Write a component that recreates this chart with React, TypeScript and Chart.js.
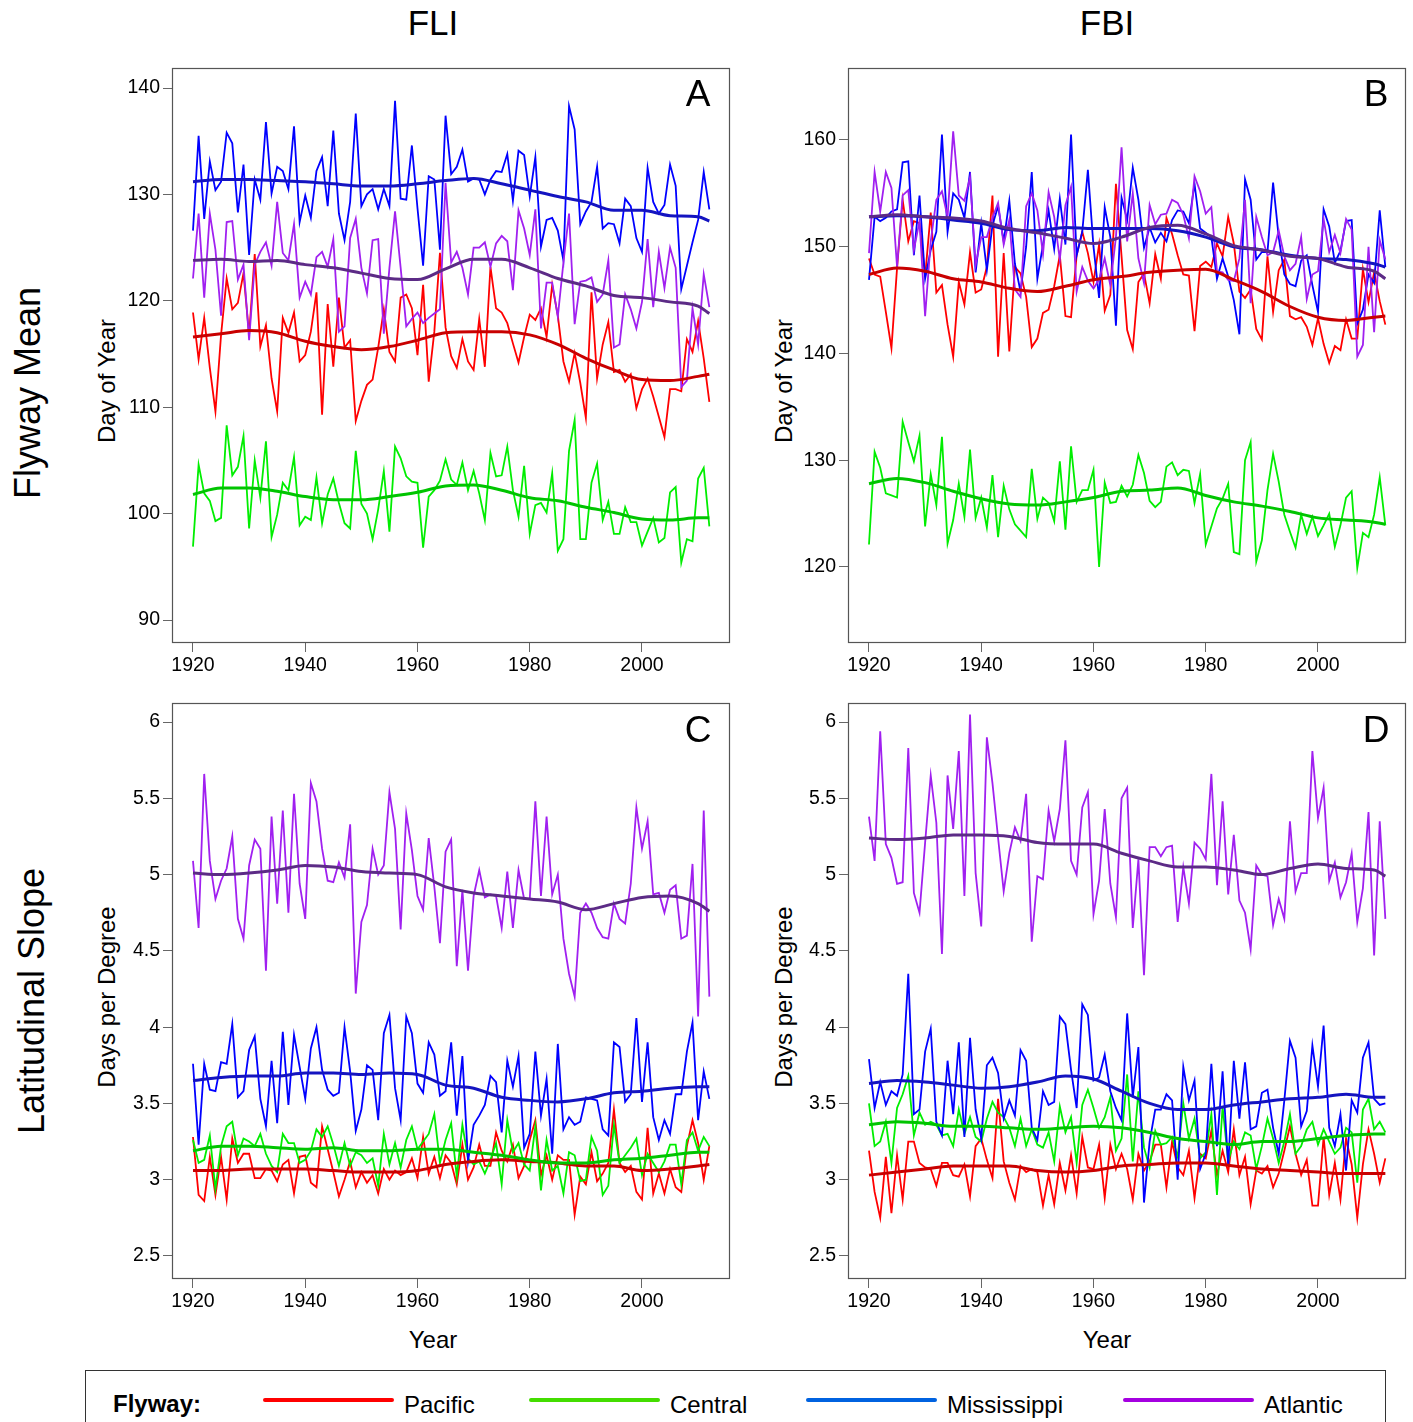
import { useEffect, useRef } from 'react'
import Chart from 'chart.js/auto'

// years 1920..2012, one value per year
const years = Array.from({ length: 93 }, (_, i) => 1920 + i)
const smoothYears = [1920, 1925, 1930, 1935, 1940, 1945, 1950, 1955, 1960, 1965, 1970, 1975, 1980, 1985, 1990, 1995, 2000, 2005, 2010, 2012]
const xTicks = [1920, 1940, 1960, 1980, 2000]
const meanTicksFLI = [90, 100, 110, 120, 130, 140]
const meanTicksFBI = [120, 130, 140, 150, 160]
const slopeTicks = [2.5, 3, 3.5, 4, 4.5, 5, 5.5, 6]

// A: FLI flyway mean
const fliMeanPacific = [
  118.9, 114.5, 118.4, 113.7, 109.6, 116.8, 122.1, 119.2, 119.8, 122.6,
  116.8, 124.4, 115.7, 117.7, 112.7, 109.6, 118.4, 117.0, 118.9, 114.3,
  114.9, 117.1, 120.8, 109.3, 119.7, 113.8, 120.3, 115.6, 116.3, 108.7,
  110.6, 112.1, 112.6, 115.6, 119.2, 115.2, 114.3, 120.3, 120.6, 119.3,
  114.9, 121.5, 112.4, 117.1, 124.5, 117.5, 114.8, 113.7, 116.4, 114.3,
  113.5, 118.3, 113.8, 123.2, 119.3, 118.9, 117.9, 116.0, 114.2, 116.6,
  118.7, 118.2, 119.3, 116.6, 121.5, 118.6, 114.3, 112.4, 115.1, 112.3,
  109.0, 120.8, 112.7, 115.9, 118.0, 113.3, 113.5, 112.4, 113.1, 109.9,
  111.7, 112.7, 111.0, 109.1, 107.2, 111.7, 111.7, 111.5, 116.4, 115.2,
  118.1, 114.6, 110.5,
]
const fliMeanCentral = [
  96.9, 104.6, 101.9, 101.2, 99.3, 99.6, 108.3, 103.6, 104.4, 107.3,
  98.6, 105.0, 101.5, 106.8, 97.8, 99.9, 102.9, 102.2, 105.3, 98.9,
  99.7, 99.4, 103.4, 99.1, 101.8, 103.3, 101.0, 99.1, 98.6, 105.9,
  100.9, 100.0, 97.6, 100.4, 104.0, 98.3, 106.3, 105.2, 103.5, 103.0,
  102.9, 96.8, 101.6, 102.2, 103.1, 105.1, 103.2, 102.7, 104.8, 102.2,
  104.0, 101.9, 99.4, 105.7, 103.5, 103.6, 106.3, 102.2, 99.7, 104.5,
  98.1, 100.8, 101.0, 100.1, 103.8, 96.5, 97.6, 105.9, 108.8, 97.6,
  97.6, 102.9, 104.7, 99.4, 101.1, 98.1, 98.1, 100.6, 99.2, 99.2,
  97.0, 98.3, 99.6, 97.3, 97.7, 102.0, 102.5, 95.4, 97.6, 97.4,
  103.3, 104.3, 98.8,
]
const fliMeanMississippi = [
  126.6, 135.5, 127.7, 133.1, 130.4, 131.2, 135.8, 134.8, 128.3, 132.8,
  124.3, 131.4, 129.5, 136.8, 130.1, 132.6, 132.2, 130.5, 136.4, 127.4,
  129.9, 127.8, 132.2, 133.5, 128.9, 136.0, 128.2, 125.7, 129.3, 137.6,
  128.9, 130.0, 130.5, 128.6, 130.5, 128.9, 138.8, 129.6, 129.5, 134.6,
  128.7, 123.3, 131.7, 131.4, 124.8, 137.4, 131.9, 132.6, 134.2, 131.2,
  131.5, 131.4, 130.0, 131.4, 132.2, 132.1, 133.8, 129.4, 134.1, 133.7,
  129.8, 133.5, 125.1, 127.6, 127.8, 126.6, 123.8, 138.3, 136.1, 127.2,
  128.4, 129.3, 132.6, 126.8, 127.3, 127.2, 125.4, 129.6, 128.9, 125.9,
  124.6, 132.5, 129.3, 128.2, 129.0, 132.8, 130.8, 121.1, 123.3, 125.5,
  127.6, 132.1, 128.6,
]
const fliMeanAtlantic = [
  122.1, 128.2, 120.3, 128.2, 124.8, 118.6, 127.4, 127.5, 122.0, 123.4,
  116.3, 123.4, 124.6, 125.5, 123.3, 129.3, 124.5, 123.8, 127.2, 120.3,
  121.8, 120.6, 124.1, 124.6, 123.2, 125.8, 117.1, 117.6, 125.9, 127.7,
  123.1, 120.7, 125.7, 125.8, 116.9, 123.1, 128.4, 123.1, 117.6, 118.3,
  118.9, 117.9, 118.4, 118.8, 119.2, 131.1, 123.6, 124.6, 123.1, 120.6,
  125.0, 125.0, 125.5, 123.2, 125.4, 126.1, 125.6, 121.0, 128.5, 126.8,
  124.3, 128.6, 117.4, 121.7, 121.7, 118.5, 123.6, 128.2, 117.8, 121.8,
  121.9, 122.2, 119.9, 120.6, 123.8, 115.6, 115.9, 120.6, 119.2, 117.4,
  119.9, 125.8, 119.4, 124.6, 121.2, 125.0, 123.1, 111.9, 112.5, 119.3,
  115.9, 122.5, 119.4,
]
const fliMeanPacificTrend = [116.6, 116.9, 117.2, 117.0, 116.2, 115.7, 115.4, 115.7, 116.3, 117.0, 117.1, 117.1, 116.8, 115.9, 114.6, 113.5, 112.6, 112.5, 112.9, 113.1]
const fliMeanCentralTrend = [101.8, 102.4, 102.4, 102.1, 101.6, 101.3, 101.3, 101.6, 102.0, 102.6, 102.7, 102.2, 101.5, 101.2, 100.6, 100.1, 99.5, 99.4, 99.6, 99.6]
const fliMeanMississippiTrend = [131.2, 131.4, 131.4, 131.3, 131.2, 131.0, 130.8, 130.8, 131.0, 131.3, 131.5, 131.0, 130.4, 129.8, 129.3, 128.5, 128.5, 128.0, 127.9, 127.5]
const fliMeanAtlanticTrend = [123.8, 123.9, 123.7, 123.8, 123.4, 123.1, 122.6, 122.1, 122.0, 123.0, 123.9, 123.9, 123.1, 122.1, 121.4, 120.5, 120.3, 119.9, 119.5, 118.8]

// B: FBI flyway mean
const fbiMeanPacific = [
  148.9, 147.4, 147.2, 143.9, 140.5, 148.0, 154.4, 150.5, 152.4, 152.2,
  147.2, 153.2, 145.7, 146.4, 142.7, 139.7, 146.7, 144.6, 149.5, 145.7,
  146.0, 148.1, 154.8, 139.7, 149.4, 140.2, 148.1, 147.5, 145.3, 140.6,
  141.4, 143.8, 144.1, 146.3, 149.2, 143.5, 143.4, 149.2, 151.4, 149.4,
  146.7, 150.2, 144.0, 145.5, 155.9, 149.1, 142.2, 140.4, 146.7, 147.5,
  144.7, 149.3, 147.0, 152.7, 151.2, 149.2, 147.4, 147.3, 142.1, 148.2,
  148.6, 148.1, 150.3, 149.1, 152.8, 150.3, 145.8, 145.2, 146.0, 142.3,
  141.3, 149.1, 143.9, 147.8, 148.8, 143.5, 143.2, 143.4, 142.5, 140.8,
  143.3, 140.9, 139.1, 140.7, 140.3, 143.2, 141.4, 141.4, 147.9, 144.8,
  147.6, 144.9, 142.7,
]
const fbiMeanCentral = [
  122.1, 130.8, 129.3, 126.9, 126.7, 126.5, 133.6, 131.7, 129.9, 132.3,
  123.8, 128.7, 125.8, 132.2, 122.2, 124.4, 127.8, 124.7, 131.0, 124.6,
  126.5, 123.7, 128.6, 122.8, 127.6, 125.4, 124.0, 123.4, 122.8, 129.2,
  124.5, 126.5, 126.0, 124.3, 129.9, 123.5, 131.3, 126.1, 127.2, 127.2,
  129.1, 120.0, 127.9, 126.0, 126.1, 127.6, 126.6, 127.7, 130.5, 128.8,
  126.2, 125.6, 126.1, 129.4, 129.8, 128.6, 129.1, 129.0, 126.0, 128.7,
  122.1, 123.8, 125.5, 126.4, 127.8, 121.4, 121.2, 130.0, 131.7, 120.5,
  122.5, 127.2, 130.6, 128.0, 124.9, 123.3, 121.8, 124.9, 123.1, 124.7,
  122.9, 123.9, 125.0, 121.9, 123.9, 126.5, 127.1, 119.9, 123.2, 122.8,
  124.9, 128.4, 123.9,
]
const fbiMeanMississippi = [
  146.9, 152.8, 152.4, 152.7, 153.3, 153.5, 157.9, 158.0, 149.2, 154.8,
  147.0, 149.7, 151.4, 160.5, 151.4, 155.0, 154.4, 152.7, 157.0, 147.6,
  152.2, 147.8, 152.0, 153.8, 150.5, 154.3, 148.4, 145.8, 150.0, 157.0,
  147.0, 150.2, 153.4, 149.8, 154.5, 150.2, 160.5, 149.2, 151.4, 157.2,
  150.0, 145.2, 153.7, 150.9, 142.6, 154.6, 152.5, 157.4, 154.4, 149.9,
  151.8, 150.4, 151.3, 150.5, 152.5, 153.4, 153.3, 152.2, 155.9, 151.7,
  151.3, 150.9, 147.0, 148.9, 147.2, 145.0, 141.8, 156.3, 154.4, 148.8,
  149.5, 149.5, 156.0, 150.9, 147.4, 146.5, 146.3, 148.7, 149.2, 146.4,
  143.9, 153.5, 151.9, 148.5, 149.6, 152.4, 152.5, 142.8, 144.1, 147.4,
  146.6, 153.4, 148.1,
]
const fbiMeanAtlantic = [
  149.4, 157.0, 153.3, 157.0, 155.5, 148.1, 154.8, 155.3, 149.7, 152.4,
  143.5, 150.5, 154.4, 155.2, 152.8, 160.8, 154.8, 154.3, 156.5, 148.3,
  150.9, 150.9, 152.7, 154.1, 150.2, 152.5, 146.0, 145.3, 153.8, 155.0,
  153.4, 149.3, 155.1, 152.8, 148.8, 153.9, 155.6, 145.8, 148.1, 146.8,
  146.1, 146.9, 148.9, 146.4, 150.9, 159.3, 150.5, 155.0, 148.9, 146.6,
  153.9, 152.1, 153.0, 153.1, 154.4, 154.1, 153.0, 150.8, 156.6, 155.2,
  153.1, 153.7, 147.7, 147.6, 146.9, 146.8, 148.9, 154.4, 144.7, 152.8,
  150.9, 149.2, 149.5, 151.5, 149.1, 147.8, 148.4, 150.9, 145.1, 147.4,
  147.7, 152.6, 149.5, 151.1, 149.4, 152.6, 151.6, 139.7, 140.8, 150.0,
  142.0, 150.6, 148.8,
]
const fbiMeanPacificTrend = [147.4, 148.0, 147.7, 147.0, 146.7, 146.1, 145.8, 146.3, 146.9, 147.2, 147.6, 147.8, 147.9, 146.9, 145.8, 144.4, 143.4, 143.1, 143.4, 143.5]
const fbiMeanCentralTrend = [127.8, 128.3, 127.9, 127.1, 126.4, 125.9, 125.8, 126.1, 126.5, 127.1, 127.2, 127.4, 126.7, 126.1, 125.7, 125.2, 124.6, 124.4, 124.2, 124.0]
const fbiMeanMississippiTrend = [152.8, 152.9, 152.8, 152.5, 152.2, 151.6, 151.5, 151.8, 151.7, 151.7, 151.7, 151.5, 150.9, 150.0, 149.7, 149.2, 148.9, 148.8, 148.4, 148.1]
const fbiMeanAtlanticTrend = [152.8, 153.0, 152.8, 152.7, 152.4, 151.7, 151.3, 150.8, 150.3, 150.9, 151.8, 152.0, 151.2, 150.1, 149.7, 149.1, 148.9, 148.1, 147.7, 147.0]

// C: FLI latitudinal slope
const fliSlopePacific = [
  3.28, 2.90, 2.86, 3.15, 2.90, 3.15, 2.87, 3.27, 3.11, 3.17,
  3.17, 3.01, 3.01, 3.07, 3.06, 2.99, 3.10, 3.13, 2.91, 3.15,
  3.16, 2.98, 2.95, 3.35, 3.20, 3.05, 2.89, 3.00, 3.12, 2.95,
  3.05, 2.98, 3.03, 2.91, 3.07, 3.00, 3.06, 3.03, 3.05, 3.14,
  3.01, 3.28, 3.04, 3.15, 3.01, 3.16, 3.11, 2.97, 3.23, 3.00,
  3.08, 3.23, 3.09, 3.09, 3.31, 3.19, 3.12, 3.23, 3.01, 3.09,
  3.26, 3.39, 3.03, 3.16, 3.00, 3.16, 3.13, 3.13, 2.77, 3.02,
  2.97, 3.18, 2.99, 3.04, 3.11, 3.46, 3.11, 3.05, 3.09, 2.92,
  2.87, 3.34, 2.91, 3.04, 2.91, 3.07, 2.95, 2.92, 3.22, 3.39,
  3.24, 3.00, 3.22,
]
const fliSlopeCentral = [
  3.26, 3.11, 3.13, 3.29, 2.94, 3.22, 3.35, 3.38, 3.16, 3.27,
  3.25, 3.22, 3.30, 3.17, 3.09, 3.05, 3.30, 3.24, 3.24, 3.11,
  3.13, 3.19, 3.33, 3.28, 3.35, 3.23, 3.09, 3.24, 3.09, 3.18,
  3.16, 3.11, 3.14, 2.96, 3.30, 3.10, 3.24, 3.08, 3.26, 3.35,
  3.20, 3.25, 3.30, 3.43, 3.11, 3.26, 3.37, 3.02, 3.36, 3.14,
  3.10, 3.12, 3.04, 3.13, 3.24, 2.97, 3.39, 3.18, 3.24, 3.10,
  3.06, 3.35, 2.93, 3.26, 3.06, 3.09, 2.91, 3.18, 3.16, 2.99,
  3.00, 3.28, 3.19, 2.90, 2.96, 3.36, 3.11, 3.16, 3.21, 3.27,
  3.03, 3.17, 3.11, 3.05, 3.12, 3.23, 3.23, 2.97, 3.26, 3.31,
  3.19, 3.28, 3.22,
]
const fliSlopeMississippi = [
  3.76, 3.23, 3.76, 3.59, 3.58, 3.77, 3.76, 4.02, 3.54, 3.58,
  3.85, 3.94, 3.53, 3.35, 3.78, 3.37, 3.97, 3.49, 3.95, 3.74,
  3.53, 3.86, 4.00, 3.72, 3.59, 3.55, 3.57, 4.00, 3.71, 3.32,
  3.46, 3.75, 3.72, 3.39, 3.96, 4.08, 3.60, 3.39, 4.07, 3.96,
  3.63, 3.57, 3.90, 3.82, 3.55, 3.58, 3.90, 3.42, 3.81, 3.12,
  3.36, 3.42, 3.49, 3.68, 3.64, 3.31, 3.78, 3.61, 3.81, 3.21,
  3.30, 3.84, 3.42, 3.66, 3.17, 3.89, 3.33, 3.41, 3.36, 3.38,
  3.54, 3.53, 3.52, 3.33, 3.29, 3.90, 3.87, 3.51, 3.56, 4.06,
  3.51, 3.90, 3.41, 3.26, 3.39, 3.30, 3.56, 3.56, 3.84, 4.03,
  3.39, 3.71, 3.53,
]
const fliSlopeAtlantic = [
  5.09, 4.65, 5.66, 5.09, 4.84, 4.96, 5.04, 5.25, 4.71, 4.58,
  5.06, 5.23, 5.17, 4.37, 5.38, 4.81, 5.42, 4.75, 5.53, 4.94,
  4.71, 5.60, 5.48, 5.17, 4.96, 4.95, 5.08, 4.98, 5.33, 4.22,
  4.69, 4.80, 5.17, 5.00, 5.06, 5.54, 5.30, 4.64, 5.40, 5.16,
  4.86, 4.77, 5.24, 4.92, 4.55, 5.15, 5.23, 4.40, 4.90, 4.37,
  4.86, 5.03, 4.85, 4.87, 4.86, 4.65, 5.02, 4.65, 5.03, 4.84,
  4.84, 5.48, 4.86, 5.38, 4.87, 5.00, 4.58, 4.35, 4.20, 4.75,
  4.81, 4.75, 4.65, 4.59, 4.58, 4.81, 4.71, 4.68, 4.94, 5.44,
  5.17, 5.35, 4.87, 4.88, 4.75, 4.90, 4.93, 4.58, 4.60, 5.07,
  4.07, 5.42, 4.20,
]
const fliSlopePacificTrend = [3.06, 3.06, 3.07, 3.07, 3.07, 3.06, 3.05, 3.05, 3.06, 3.10, 3.12, 3.13, 3.12, 3.11, 3.09, 3.09, 3.06, 3.07, 3.09, 3.10]
const fliSlopeCentralTrend = [3.19, 3.22, 3.22, 3.21, 3.20, 3.21, 3.19, 3.19, 3.20, 3.20, 3.18, 3.16, 3.13, 3.11, 3.11, 3.13, 3.14, 3.16, 3.18, 3.18]
const fliSlopeMississippiTrend = [3.65, 3.67, 3.68, 3.68, 3.70, 3.70, 3.69, 3.70, 3.69, 3.62, 3.60, 3.54, 3.52, 3.51, 3.53, 3.57, 3.58, 3.60, 3.61, 3.61]
const fliSlopeAtlanticTrend = [5.01, 5.00, 5.01, 5.03, 5.06, 5.05, 5.02, 5.01, 5.00, 4.92, 4.88, 4.86, 4.84, 4.82, 4.77, 4.81, 4.85, 4.86, 4.81, 4.76]

// D: FBI latitudinal slope
const fbiSlopePacific = [
  3.19, 2.92, 2.75, 3.15, 2.78, 3.16, 2.87, 3.25, 3.25, 3.11,
  3.08, 3.07, 2.96, 3.11, 3.11, 3.03, 3.02, 3.10, 2.89, 3.22,
  3.27, 3.13, 3.01, 3.53, 3.12, 2.98, 2.87, 3.09, 3.05, 3.07,
  3.05, 2.83, 3.03, 2.84, 3.11, 2.93, 3.16, 2.91, 3.28, 3.08,
  3.07, 3.23, 2.88, 3.23, 3.07, 3.17, 3.07, 2.87, 3.17, 3.06,
  3.12, 3.23, 3.23, 2.95, 3.25, 3.08, 3.03, 3.19, 2.88, 3.17,
  3.14, 3.32, 3.03, 3.19, 3.05, 3.33, 3.03, 3.15, 2.84, 3.06,
  3.04, 3.09, 2.95, 3.04, 3.19, 3.35, 3.17, 3.03, 3.13, 2.83,
  2.83, 3.28, 2.90, 3.11, 2.87, 3.27, 3.10, 2.75, 3.10, 3.33,
  3.17, 2.98, 3.14,
]
const fbiSlopeCentral = [
  3.50, 3.22, 3.25, 3.38, 3.11, 3.47, 3.56, 3.68, 3.29, 3.44,
  3.36, 3.38, 3.36, 3.29, 3.30, 3.22, 3.46, 3.30, 3.41, 3.28,
  3.25, 3.40, 3.51, 3.44, 3.41, 3.34, 3.22, 3.40, 3.22, 3.33,
  3.23, 3.21, 3.31, 3.12, 3.48, 3.31, 3.41, 3.11, 3.49, 3.59,
  3.47, 3.34, 3.41, 3.54, 3.19, 3.27, 3.69, 3.12, 3.58, 3.21,
  3.08, 3.32, 3.23, 3.24, 3.28, 3.15, 3.50, 3.27, 3.40, 3.14,
  3.18, 3.43, 2.90, 3.48, 3.12, 3.25, 3.20, 3.31, 3.29, 3.07,
  3.22, 3.40, 3.27, 3.11, 3.25, 3.43, 3.17, 3.22, 3.33, 3.38,
  3.23, 3.33, 3.25, 3.17, 3.21, 3.34, 3.31, 2.98, 3.46, 3.53,
  3.33, 3.38, 3.31,
]
const fbiSlopeMississippi = [
  3.79, 3.47, 3.64, 3.49, 3.58, 3.55, 3.69, 4.35, 3.43, 3.46,
  3.84, 3.99, 3.38, 3.29, 3.78, 3.43, 3.90, 3.28, 3.93, 3.46,
  3.27, 3.75, 3.80, 3.70, 3.40, 3.52, 3.42, 3.85, 3.78, 3.34,
  3.26, 3.58, 3.49, 3.51, 4.07, 4.02, 3.72, 3.47, 4.15, 4.08,
  3.65, 3.67, 3.82, 3.58, 3.47, 3.39, 4.09, 3.54, 3.87, 2.85,
  3.25, 3.46, 3.46, 3.56, 3.52, 3.00, 3.74, 3.52, 3.65, 3.07,
  3.17, 3.76, 3.22, 3.71, 3.09, 3.78, 3.40, 3.77, 3.33, 3.35,
  3.57, 3.59, 3.34, 3.17, 3.52, 3.91, 3.80, 3.35, 3.45, 3.88,
  3.61, 4.01, 3.34, 3.22, 3.43, 3.06, 3.52, 3.44, 3.80, 3.90,
  3.53, 3.49, 3.50,
]
const fbiSlopeAtlantic = [
  5.38, 5.09, 5.94, 5.20, 5.11, 4.94, 4.95, 5.83, 4.88, 4.75,
  5.21, 5.65, 5.34, 4.48, 5.65, 5.30, 5.81, 4.86, 6.05, 5.01,
  4.66, 5.90, 5.60, 5.24, 4.89, 5.14, 5.31, 5.22, 5.53, 4.56,
  4.99, 4.97, 5.42, 5.22, 5.43, 5.88, 5.09, 5.00, 5.44, 5.54,
  4.74, 4.96, 5.43, 4.94, 4.72, 5.50, 5.57, 4.65, 5.10, 4.34,
  5.18, 5.18, 5.12, 5.18, 5.19, 4.69, 5.05, 4.81, 5.21, 5.17,
  5.10, 5.66, 4.93, 5.48, 4.87, 5.26, 4.83, 4.75, 4.51, 5.06,
  5.00, 4.99, 4.67, 4.84, 4.71, 5.35, 4.89, 5.01, 5.01, 5.81,
  5.37, 5.57, 4.96, 5.08, 4.85, 4.95, 5.14, 4.69, 4.91, 5.41,
  4.47, 5.35, 4.71,
]
const fbiSlopePacificTrend = [3.03, 3.05, 3.07, 3.09, 3.09, 3.09, 3.06, 3.05, 3.06, 3.09, 3.10, 3.11, 3.11, 3.09, 3.07, 3.06, 3.05, 3.04, 3.04, 3.04]
const fbiSlopeCentralTrend = [3.36, 3.38, 3.37, 3.35, 3.35, 3.34, 3.33, 3.34, 3.35, 3.34, 3.31, 3.27, 3.25, 3.23, 3.25, 3.25, 3.27, 3.29, 3.30, 3.30]
const fbiSlopeMississippiTrend = [3.63, 3.65, 3.64, 3.62, 3.60, 3.61, 3.64, 3.68, 3.66, 3.58, 3.50, 3.46, 3.46, 3.49, 3.51, 3.53, 3.54, 3.56, 3.54, 3.54]
const fbiSlopeAtlanticTrend = [5.24, 5.23, 5.24, 5.26, 5.26, 5.25, 5.21, 5.20, 5.20, 5.14, 5.09, 5.05, 5.05, 5.03, 5.00, 5.04, 5.07, 5.04, 5.03, 4.99]

const FONT = '"Liberation Sans", Arial, Helvetica, sans-serif'
const RAW = { pac: '#ff0000', cen: '#00ee00', mis: '#0000ff', atl: '#a020f0' }
const TREND = { pac: '#c80000', cen: '#00c400', mis: '#1414c0', atl: '#5c2b86' }

const boxPlugin = {
  id: 'box',
  afterDraw(chart: any) {
    const { ctx, chartArea: a } = chart
    ctx.save()
    ctx.strokeStyle = '#555'
    ctx.lineWidth = 1.2
    ctx.strokeRect(a.left + 0.5, a.top + 0.5, a.right - a.left - 1, a.bottom - a.top - 1)
    ctx.restore()
  },
}

interface PanelProps {
  left: number
  plotTop: number
  plotBottom: number
  yMin: number
  yMax: number
  yTicks: number[]
  raw: { pac: number[]; cen: number[]; mis: number[]; atl: number[] }
  trend: { pac: number[]; cen: number[]; mis: number[]; atl: number[] }
}

// chart.js keeps half a tick label of room above the plot, so the canvas starts 15px higher
const TOP_ROOM = 15
const X_AXIS_H = 47

function Panel({ left, plotTop, plotBottom, yMin, yMax, yTicks, raw, trend }: PanelProps) {
  const canvasRef = useRef<HTMLCanvasElement>(null)
  const chartRef = useRef<Chart | null>(null)
  const width = 624
  const top = plotTop - TOP_ROOM
  const height = plotBottom + X_AXIS_H - top

  useEffect(() => {
    if (!canvasRef.current) return
    const pts = (vals: number[], xs: number[]) => vals.map((v, i) => ({ x: xs[i], y: v }))
    const trendSet = (vals: number[], color: string) => ({
      data: pts(vals, smoothYears), borderColor: color, borderWidth: 3,
      tension: 0.4, cubicInterpolationMode: 'monotone' as const, pointRadius: 0,
    })
    const rawSet = (vals: number[], color: string) => ({
      data: pts(vals, years), borderColor: color, borderWidth: 1.8, tension: 0, pointRadius: 0,
    })
    chartRef.current?.destroy()
    chartRef.current = new Chart(canvasRef.current, {
      type: 'line',
      data: {
        datasets: [
          trendSet(trend.atl, TREND.atl),
          trendSet(trend.mis, TREND.mis),
          trendSet(trend.cen, TREND.cen),
          trendSet(trend.pac, TREND.pac),
          rawSet(raw.atl, RAW.atl),
          rawSet(raw.mis, RAW.mis),
          rawSet(raw.cen, RAW.cen),
          rawSet(raw.pac, RAW.pac),
        ],
      },
      options: {
        responsive: false, animation: false,
        layout: { padding: { top: TOP_ROOM, right: 6, left: 0, bottom: 0 } },
        plugins: { legend: { display: false }, tooltip: { enabled: false } },
        scales: {
          x: {
            type: 'linear', min: 1916.26, max: 2015.68,
            afterBuildTicks: (s: any) => { s.ticks = xTicks.map(v => ({ value: v })) },
            afterFit: (s: any) => { s.height = X_AXIS_H },
            grid: { drawOnChartArea: false, drawTicks: true, tickLength: 9, color: '#666' },
            border: { display: false },
            ticks: { color: '#000', font: { family: FONT, size: 19.5 }, padding: 2, maxRotation: 0, autoSkip: false, callback: v => String(v) },
          },
          y: {
            min: yMin, max: yMax,
            afterBuildTicks: (s: any) => { s.ticks = yTicks.map(v => ({ value: v })) },
            afterFit: (s: any) => { s.width = 60 },
            grid: { drawOnChartArea: false, drawTicks: true, tickLength: 9, color: '#666' },
            border: { display: false },
            ticks: { color: '#000', font: { family: FONT, size: 19.5 }, padding: 3, autoSkip: false, callback: v => String(v) },
          },
        },
      },
      plugins: [boxPlugin],
    })
    return () => chartRef.current?.destroy()
  }, [])

  return (
    <canvas ref={canvasRef} width={width} height={height}
      style={{ position: 'absolute', left, top, width, height, display: 'block' }} />
  )
}

function Label({ text, x, y, size, rotate = false }: { text: string; x: number; y: number; size: number; rotate?: boolean }) {
  return (
    <div style={{
      position: 'absolute', left: x, top: y, fontSize: size,
      lineHeight: 1, whiteSpace: 'nowrap', color: '#000',
      transform: `translate(-50%, -50%)${rotate ? ' rotate(-90deg)' : ''}`,
    }}>{text}</div>
  )
}

const legendItems = [
  { name: 'Pacific', color: '#ff0000', x: 263 },
  { name: 'Central', color: '#44dd00', x: 529 },
  { name: 'Mississippi', color: '#0062e0', x: 806 },
  { name: 'Atlantic', color: '#a400e0', x: 1123 },
]

export default function App() {
  return (
    <div style={{ position: 'absolute', left: 0, top: 0, width: 1413, height: 1422, overflow: 'hidden', background: '#fff', fontFamily: FONT }}>
      <Label text="FLI" x={433} y={22} size={35} />
      <Label text="FBI" x={1107} y={22} size={35} />
      <Label text="Flyway Mean" x={28} y={393} size={36} rotate />
      <Label text="Latitudinal Slope" x={32} y={1001} size={36} rotate />
      <Label text="Day of Year" x={107} y={381} size={24} rotate />
      <Label text="Day of Year" x={784} y={381} size={24} rotate />
      <Label text="Days per Degree" x={107} y={997} size={24} rotate />
      <Label text="Days per Degree" x={784} y={997} size={24} rotate />
      <Label text="Year" x={433} y={1340} size={24} />
      <Label text="Year" x={1107} y={1340} size={24} />

      <Panel left={112} plotTop={68} plotBottom={643} yMin={87.84} yMax={141.88} yTicks={meanTicksFLI}
        raw={{ pac: fliMeanPacific, cen: fliMeanCentral, mis: fliMeanMississippi, atl: fliMeanAtlantic }}
        trend={{ pac: fliMeanPacificTrend, cen: fliMeanCentralTrend, mis: fliMeanMississippiTrend, atl: fliMeanAtlanticTrend }} />
      <Panel left={788} plotTop={68} plotBottom={643} yMin={112.88} yMax={166.74} yTicks={meanTicksFBI}
        raw={{ pac: fbiMeanPacific, cen: fbiMeanCentral, mis: fbiMeanMississippi, atl: fbiMeanAtlantic }}
        trend={{ pac: fbiMeanPacificTrend, cen: fbiMeanCentralTrend, mis: fbiMeanMississippiTrend, atl: fbiMeanAtlanticTrend }} />
      <Panel left={112} plotTop={703} plotBottom={1279} yMin={2.349} yMax={6.125} yTicks={slopeTicks}
        raw={{ pac: fliSlopePacific, cen: fliSlopeCentral, mis: fliSlopeMississippi, atl: fliSlopeAtlantic }}
        trend={{ pac: fliSlopePacificTrend, cen: fliSlopeCentralTrend, mis: fliSlopeMississippiTrend, atl: fliSlopeAtlanticTrend }} />
      <Panel left={788} plotTop={703} plotBottom={1279} yMin={2.349} yMax={6.125} yTicks={slopeTicks}
        raw={{ pac: fbiSlopePacific, cen: fbiSlopeCentral, mis: fbiSlopeMississippi, atl: fbiSlopeAtlantic }}
        trend={{ pac: fbiSlopePacificTrend, cen: fbiSlopeCentralTrend, mis: fbiSlopeMississippiTrend, atl: fbiSlopeAtlanticTrend }} />

      <Label text="A" x={698} y={93} size={37} />
      <Label text="B" x={1376} y={93} size={37} />
      <Label text="C" x={698} y={729} size={37} />
      <Label text="D" x={1376} y={729} size={37} />

      <div style={{ position: 'absolute', left: 85, top: 1370, width: 1299, height: 80, border: '1.5px solid #333' }} />
      <div style={{ position: 'absolute', left: 113, top: 1390, fontSize: 24, fontWeight: 'bold', lineHeight: '28px' }}>Flyway:</div>
      {legendItems.map(it => (
        <div key={it.name}>
          <div style={{ position: 'absolute', left: it.x, top: 1398, width: 131, height: 4, borderRadius: 2, background: it.color }} />
          <div style={{ position: 'absolute', left: it.x + 141, top: 1391, fontSize: 24, lineHeight: '28px' }}>{it.name}</div>
        </div>
      ))}
    </div>
  )
}
